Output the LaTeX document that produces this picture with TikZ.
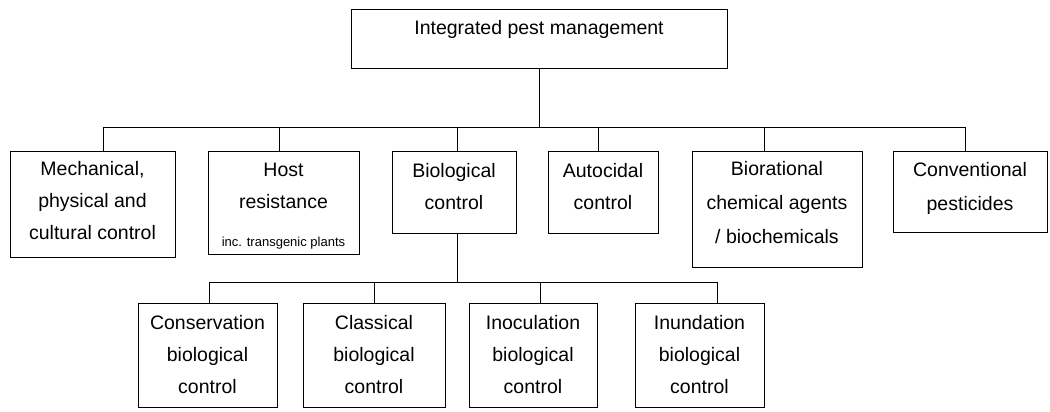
\documentclass[tikz,border=0pt]{standalone}
\usepackage{fontspec}
\setmainfont{Liberation Sans}
\newcommand{\lowstrut}[1]{\rule[-#1]{0pt}{#1}}
\begin{document}
\begin{tikzpicture}[x=1pt,y=-1pt,
    box/.style={draw,line width=1pt,inner sep=0pt,align=center,
      font=\fontsize{19.5}{32}\selectfont},
    wide/.style={font=\fontsize{19.5}{34}\selectfont},
    link/.style={line width=1pt}]
  \useasboundingbox (0,0) rectangle (1050,412);
  \node[box,anchor=north,minimum width=376pt,text height=25pt,text depth=34pt]
    (ipm) at (539,9) {Integrated pest management};
  \node[box,minimum width=165pt,minimum height=106pt] (mech) at (92.5,204)
    {Mechanical,\\physical and\\cultural control\lowstrut{8pt}};
  \node[box,minimum width=151pt,minimum height=103pt] (host) at (283.5,202.5)
    {\rule{0pt}{20pt}Host\\resistance\\[6pt]{\fontsize{13}{16}\selectfont inc. transgenic plants}};
  \node[box,minimum width=124pt,minimum height=82pt] (bio) at (454,192)
    {Biological\\control\lowstrut{11pt}};
  \node[box,minimum width=110pt,minimum height=82pt] (auto) at (603,192)
    {Autocidal\\control\lowstrut{11pt}};
  \node[box,wide,minimum width=170pt,minimum height=116pt] (biorat) at (777,209)
    {Biorational\\chemical agents\\/ biochemicals\lowstrut{14pt}};
  \node[box,wide,minimum width=154pt,minimum height=81pt] (conv) at (970,191.5)
    {Conventional\\pesticides\lowstrut{10pt}};
  \node[box,minimum width=139pt,minimum height=104pt] (cons) at (207.5,355)
    {Conservation\\biological\\control};
  \node[box,minimum width=142pt,minimum height=104pt] (class) at (374,355)
    {Classical\\biological\\control};
  \node[box,minimum width=128pt,minimum height=104pt] (inoc) at (533,355)
    {Inoculation\\biological\\control};
  \node[box,minimum width=129pt,minimum height=104pt] (inund) at (699.5,355)
    {Inundation\\biological\\control};
  \coordinate (b1) at (103,127);
  \coordinate (b2) at (279,127);
  \coordinate (b3) at (457,127);
  \coordinate (b4) at (598,127);
  \coordinate (b5) at (764,127);
  \coordinate (b6) at (965,127);
  \coordinate (c0) at (457,282);
  \coordinate (c1) at (209,282);
  \coordinate (c2) at (374,282);
  \coordinate (c3) at (540,282);
  \coordinate (c4) at (717,282);
  \begin{scope}[link]
    \draw (ipm.south) to (ipm.south |- b1);
    \draw (b1) to (b6);
    \draw (b1) to (b1 |- mech.north);
    \draw (b2) to (b2 |- host.north);
    \draw (b3) to (b3 |- bio.north);
    \draw (b4) to (b4 |- auto.north);
    \draw (b5) to (b5 |- biorat.north);
    \draw (b6) to (b6 |- conv.north);
    \draw (c0 |- bio.south) to (c0);
    \draw (c1) to (c4);
    \draw (c1) to (c1 |- cons.north);
    \draw (c2) to (c2 |- class.north);
    \draw (c3) to (c3 |- inoc.north);
    \draw (c4) to (c4 |- inund.north);
  \end{scope}
\end{tikzpicture}
\end{document}
